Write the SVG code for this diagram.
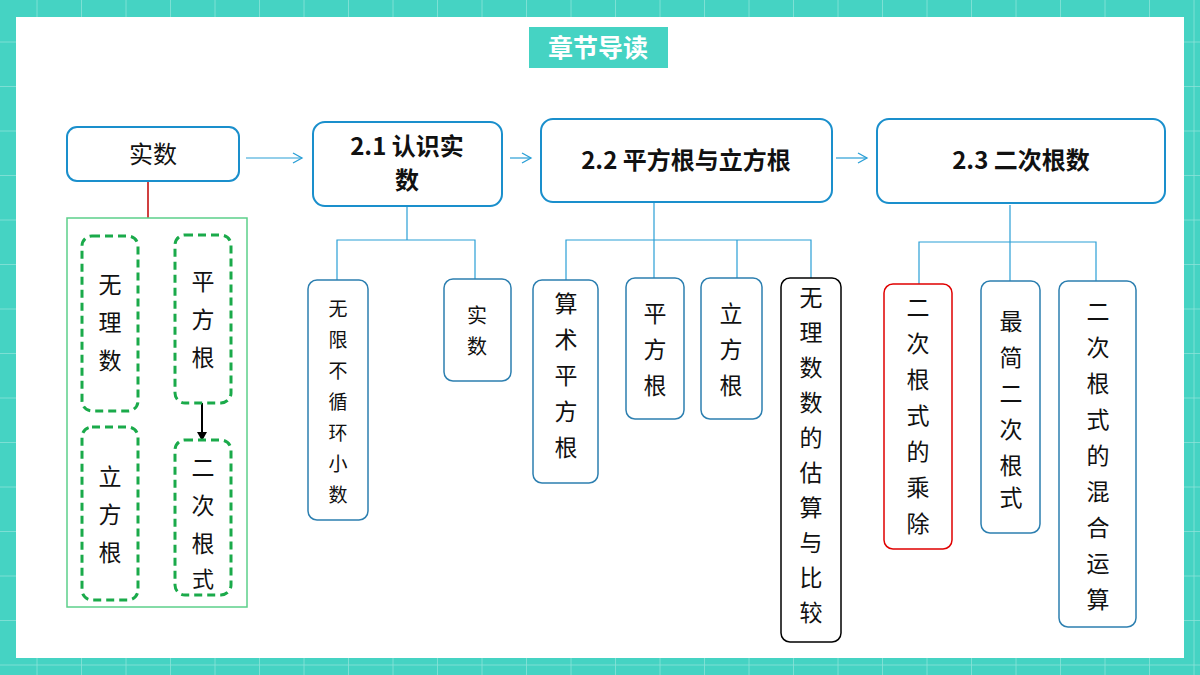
<svg xmlns="http://www.w3.org/2000/svg" width="1200" height="675" viewBox="0 0 1200 675">
<defs>
<pattern id="grid" width="44.5" height="44.5" patternUnits="userSpaceOnUse" x="-7" y="-2">
<rect width="44.5" height="44.5" fill="#45d3c3"/>
<path d="M44.5 0V44.5M0 44.5H44.5" stroke="#8ee4da" stroke-width="1.5" fill="none"/>
</pattern>
<marker id="ab" markerWidth="12" markerHeight="12" refX="10" refY="6" orient="auto" markerUnits="userSpaceOnUse"><path d="M1 1L10 6L1 11" fill="none" stroke="#2a9fd6" stroke-width="1.3"/></marker>
<marker id="ak" markerWidth="10" markerHeight="10" refX="8" refY="5" orient="auto" markerUnits="userSpaceOnUse"><path d="M0 0L9 5L0 10Z" fill="#000"/></marker>
</defs>
<style>
text{font-family:"Noto Sans CJK SC","Noto Sans",sans-serif;fill:#111;text-anchor:middle}
.b{fill:#fff;stroke:#1a8fcc;stroke-width:2}
.s{fill:#fff;stroke:#2c7fb0;stroke-width:1.5}
.d{fill:#fff;stroke:#1aaa4a;stroke-width:3;stroke-dasharray:8 5}
.h{font-size:24px;font-weight:bold}
.v{font-size:23px}
.c{fill:none;stroke:#2a9fd6;stroke-width:1.2}
</style>
<rect width="1200" height="675" fill="url(#grid)"/>
<rect x="16" y="17" width="1168" height="641" fill="#fff"/>
<g id="title"><rect x="529" y="27" width="139" height="41" fill="#45d3c3"/><text x="598" y="57" style="font-size:25px;font-weight:bold;fill:#fff">章节导读</text></g>
<g id="connectors">
<line x1="148" y1="181" x2="148" y2="218" stroke="#c00000" stroke-width="1.5"/>
<line x1="202" y1="403" x2="202" y2="440" stroke="#000" stroke-width="2" marker-end="url(#ak)"/>
<line class="c" x1="246" y1="158" x2="302" y2="158" marker-end="url(#ab)"/>
<line class="c" x1="510" y1="158" x2="531" y2="158" marker-end="url(#ab)"/>
<line class="c" x1="836" y1="158" x2="867" y2="158" marker-end="url(#ab)"/>
<path class="c" d="M407 206V240M337 280V240H475V279"/>
<path class="c" d="M654 202V240M566 280V240H811V278M654 240V278M737 240V278"/>
<path class="c" d="M1010 205V242M919 284V242H1096V281M1010 242V281"/>
</g>
<g id="n-shishu"><rect class="b" x="67" y="127" width="172" height="54" rx="10"/><text class="h" x="153" y="163" style="font-weight:normal">实数</text></g>
<g id="n-group"><rect x="67" y="218" width="180" height="389" fill="none" stroke="#5cd08a" stroke-width="1.5"/></g>
<g id="n-wuli"><rect class="d" x="82" y="236" width="56" height="175" rx="10"/><text class="v" x="110" y="293">无</text><text class="v" x="110" y="331">理</text><text class="v" x="110" y="369">数</text></g>
<g id="n-pfg"><rect class="d" x="175" y="235" width="56" height="168" rx="10"/><text class="v" x="203" y="290">平</text><text class="v" x="203" y="328">方</text><text class="v" x="203" y="366">根</text></g>
<g id="n-lfg"><rect class="d" x="82" y="427" width="56" height="173" rx="10"/><text class="v" x="110" y="485">立</text><text class="v" x="110" y="523">方</text><text class="v" x="110" y="561">根</text></g>
<g id="n-ecgs"><rect class="d" x="175" y="440" width="56" height="155" rx="10"/><text class="v" x="203" y="476">二</text><text class="v" x="203" y="514">次</text><text class="v" x="203" y="552">根</text><text class="v" x="203" y="587" style="font-size:22px">式</text></g>
<g id="n-21"><rect class="b" x="313" y="122" width="189" height="84" rx="12"/><text class="h" x="407" y="155">2.1 认识实</text><text class="h" x="407" y="189">数</text></g>
<g id="n-22"><rect class="b" x="541" y="119" width="291" height="83" rx="12"/><text class="h" x="686" y="169">2.2 平方根与立方根</text></g>
<g id="n-23"><rect class="b" x="877" y="119" width="288" height="84" rx="12"/><text class="h" x="1021" y="169">2.3 二次根数</text></g>
<g id="n-wx"><rect class="s" x="308" y="280" width="60" height="240" rx="9"/><g style="font-size:19px"><text x="338" y="316" style="font-size:19px">无</text><text x="338" y="347" style="font-size:19px">限</text><text x="338" y="378" style="font-size:19px">不</text><text x="338" y="409" style="font-size:19px">循</text><text x="338" y="440" style="font-size:19px">环</text><text x="338" y="471" style="font-size:19px">小</text><text x="338" y="502" style="font-size:19px">数</text></g></g>
<g id="n-ss"><rect class="s" x="444" y="279" width="67" height="102" rx="9"/><text x="477" y="323" style="font-size:20px">实</text><text x="477" y="354" style="font-size:20px">数</text></g>
<g id="n-sspfg"><rect class="s" x="533" y="280" width="65" height="203" rx="9"/><text class="v" x="566" y="312">算</text><text class="v" x="566" y="348">术</text><text class="v" x="566" y="384">平</text><text class="v" x="566" y="420">方</text><text class="v" x="566" y="456">根</text></g>
<g id="n-pfg2"><rect class="s" x="626" y="278" width="58" height="141" rx="9"/><text class="v" x="655" y="322">平</text><text class="v" x="655" y="358">方</text><text class="v" x="655" y="394">根</text></g>
<g id="n-lfg2"><rect class="s" x="701" y="278" width="61" height="141" rx="9"/><text class="v" x="731" y="322">立</text><text class="v" x="731" y="358">方</text><text class="v" x="731" y="394">根</text></g>
<g id="n-gs"><rect x="781" y="278" width="60" height="364" rx="9" fill="#fff" stroke="#000" stroke-width="1.5"/><text class="v" x="811" y="306">无</text><text class="v" x="811" y="341">理</text><text class="v" x="811" y="376">数</text><text class="v" x="811" y="411">数</text><text class="v" x="811" y="446">的</text><text class="v" x="811" y="481">估</text><text class="v" x="811" y="516">算</text><text class="v" x="811" y="551">与</text><text class="v" x="811" y="586">比</text><text class="v" x="811" y="621">较</text></g>
<g id="n-cc"><rect x="884" y="284" width="68" height="265" rx="9" fill="#fff" stroke="#e00000" stroke-width="1.5"/><text class="v" x="918" y="316">二</text><text class="v" x="918" y="352">次</text><text class="v" x="918" y="388">根</text><text class="v" x="918" y="424">式</text><text class="v" x="918" y="460">的</text><text class="v" x="918" y="496">乘</text><text class="v" x="918" y="532">除</text></g>
<g id="n-zj"><rect class="s" x="981" y="281" width="59" height="252" rx="9"/><text class="v" x="1011" y="330">最</text><text class="v" x="1011" y="366">简</text><text class="v" x="1011" y="402">二</text><text class="v" x="1011" y="438">次</text><text class="v" x="1011" y="474">根</text><text class="v" x="1011" y="506">式</text></g>
<g id="n-hh"><rect class="s" x="1059" y="281" width="77" height="346" rx="9"/><text class="v" x="1098" y="320">二</text><text class="v" x="1098" y="356">次</text><text class="v" x="1098" y="392">根</text><text class="v" x="1098" y="428">式</text><text class="v" x="1098" y="464">的</text><text class="v" x="1098" y="500">混</text><text class="v" x="1098" y="536">合</text><text class="v" x="1098" y="572">运</text><text class="v" x="1098" y="608">算</text></g>
</svg>
